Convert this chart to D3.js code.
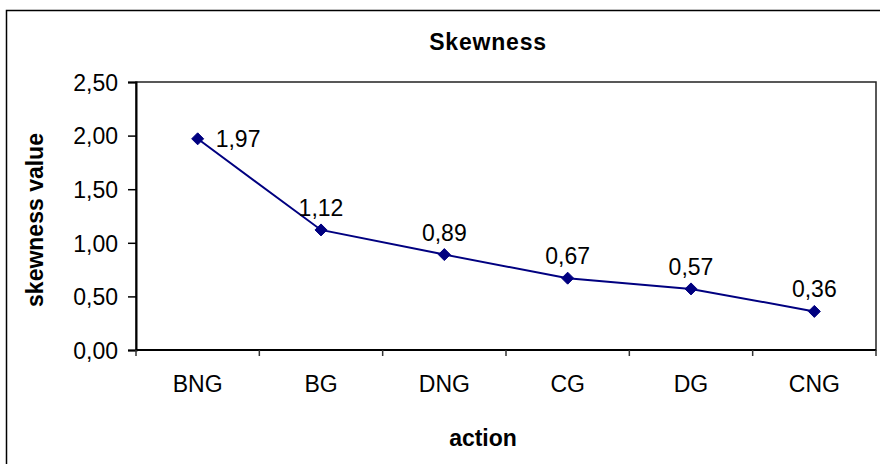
<!DOCTYPE html>
<html>
<head>
<meta charset="utf-8">
<script src="https://cdn.jsdelivr.net/npm/d3@7"></script>
<style>
  html, body { margin: 0; padding: 0; background: #fff; }
  svg { display: block; font-family: "Liberation Sans", Arial, sans-serif; }
</style>
</head>
<body>
<svg id="chart" width="880" height="464"></svg>
<script>
const categories = ["BNG", "BG", "DNG", "CG", "DG", "CNG"];
const values = [1.97, 1.12, 0.89, 0.67, 0.57, 0.36];
const yTicks = [0, 0.5, 1.0, 1.5, 2.0, 2.5];
const chartTitle = "Skewness";
const xTitle = "action";
const yTitle = "skewness value";

const svg = d3.select("#chart");
const plot = { left: 136, top: 82, right: 876, bottom: 350 };

const fmt = v => d3.format(".2f")(v).replace(".", ",");

// Outer chart border (extends beyond the image on right/bottom)
svg.append("rect")
  .attr("x", 6.5).attr("y", 10.5)
  .attr("width", 1000).attr("height", 1000)
  .attr("fill", "#fff").attr("stroke", "#000").attr("stroke-width", 1.5);

const x = d3.scaleBand().domain(categories).range([plot.left, plot.right]).padding(0);
const y = d3.scaleLinear().domain([0, 2.5]).range([plot.bottom, plot.top]);

// Plot area border (top/right)
svg.append("rect")
  .attr("x", plot.left).attr("y", plot.top)
  .attr("width", plot.right - plot.left).attr("height", plot.bottom - plot.top)
  .attr("fill", "none").attr("stroke", "#222").attr("stroke-width", 1.5);

// Y axis
const yAxis = d3.axisLeft(y).tickValues(yTicks).tickFormat(fmt).tickSize(8).tickPadding(10);
const gy = svg.append("g").attr("transform", `translate(${plot.left},0)`).call(yAxis);
gy.select(".domain").attr("stroke", "#000").attr("stroke-width", 2);
gy.selectAll(".tick line").attr("stroke", "#000").attr("stroke-width", 1.5);
gy.selectAll(".tick text").attr("font-size", 23).attr("fill", "#000")
  .attr("font-family", "Liberation Sans, Arial, sans-serif").attr("dy", "0.36em");

// X axis: ticks at band edges
const gx = svg.append("g").attr("transform", `translate(0,${plot.bottom})`);
gx.append("line")
  .attr("x1", plot.left).attr("x2", plot.right)
  .attr("stroke", "#000").attr("stroke-width", 2);
const edges = categories.map(c => x(c)).concat([x(categories[categories.length - 1]) + x.bandwidth()]);
gx.selectAll("line.tk").data(edges).join("line").attr("class", "tk")
  .attr("x1", d => d).attr("x2", d => d).attr("y1", 0).attr("y2", 6)
  .attr("stroke", "#333").attr("stroke-width", 1.5);
gx.selectAll("text").data(categories).join("text")
  .attr("x", d => x(d) + x.bandwidth() / 2).attr("y", 42)
  .attr("text-anchor", "middle").attr("font-size", 23).attr("fill", "#000")
  .text(d => d);

// Line
const pts = categories.map((c, i) => [x(c) + x.bandwidth() / 2, y(values[i])]);
svg.append("path").datum(pts)
  .attr("d", d3.line())
  .attr("fill", "none").attr("stroke", "#000080").attr("stroke-width", 2);

// Markers
svg.selectAll("path.mk").data(pts).join("path").attr("class", "mk")
  .attr("transform", d => `translate(${d[0]},${d[1]})`)
  .attr("d", "M0,-6L6,0L0,6L-6,0Z")
  .attr("fill", "#000080").attr("stroke", "#000080").attr("stroke-width", 1);

// Data labels
svg.selectAll("text.lbl").data(values).join("text").attr("class", "lbl")
  .attr("x", (d, i) => i === 0 ? pts[i][0] + 18 : pts[i][0])
  .attr("y", (d, i) => i === 0 ? pts[i][1] + 8 : pts[i][1] - 14)
  .attr("text-anchor", (d, i) => i === 0 ? "start" : "middle")
  .attr("font-size", 23).attr("fill", "#000")
  .text(d => fmt(d));

// Titles
svg.append("text").attr("x", 488).attr("y", 50)
  .attr("text-anchor", "middle").attr("font-size", 23).attr("font-weight", "bold")
  .attr("letter-spacing", 0.8)
  .text(chartTitle);

svg.append("text").attr("x", 483).attr("y", 446)
  .attr("text-anchor", "middle").attr("font-size", 23).attr("font-weight", "bold")
  .text(xTitle);

svg.append("text")
  .attr("transform", `translate(43,${(plot.top + plot.bottom) / 2 + 4}) rotate(-90)`)
  .attr("text-anchor", "middle").attr("font-size", 23).attr("font-weight", "bold")
  .text(yTitle);
</script>
</body>
</html>
